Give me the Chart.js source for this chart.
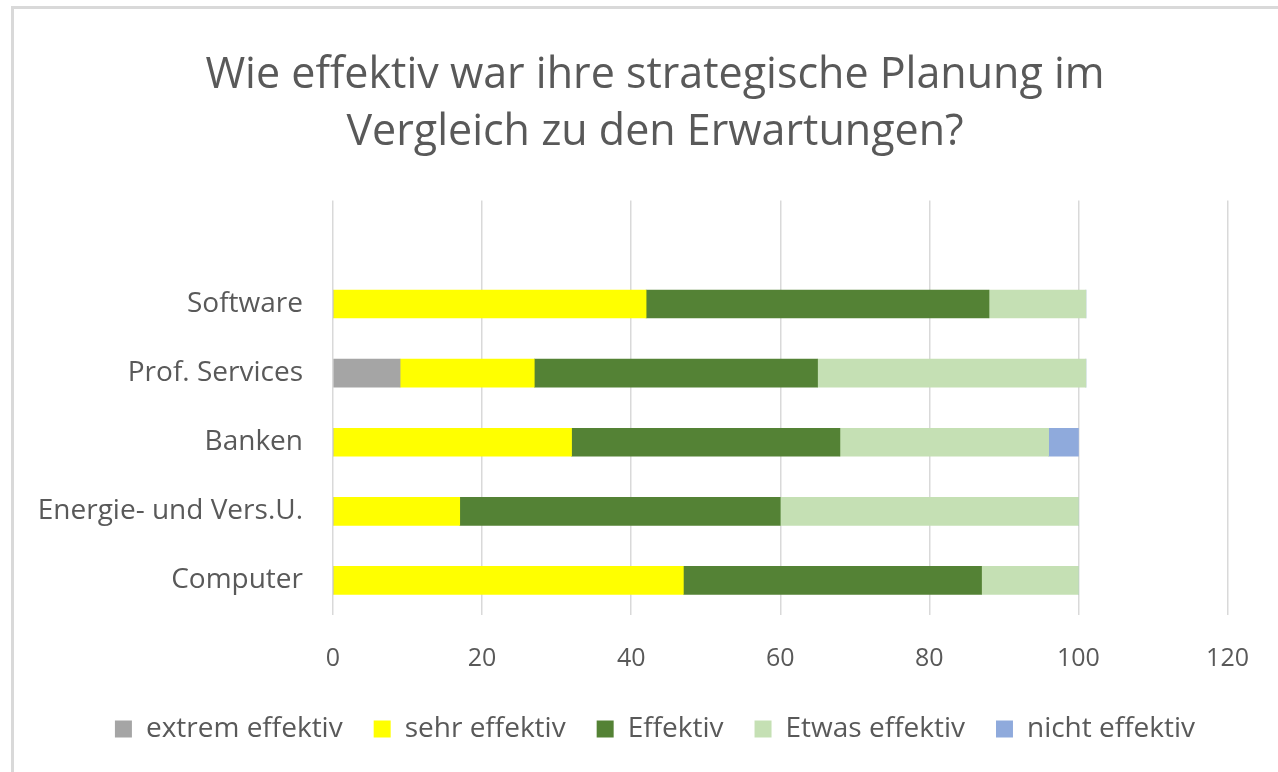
<!DOCTYPE html>
<html>
<head>
<meta charset="utf-8">
<script src="https://cdn.jsdelivr.net/npm/chart.js@4"></script>
<style>
  body { margin: 0; background: #fff; overflow: hidden; }
  #rahmen { position: absolute; left: 11px; top: 6px; width: 1400px; height: 900px;
            border-top: 3px solid #d9d9d9; border-left: 3px solid #d9d9d9; }
  #wrap { position: absolute; left: 0; top: 0; width: 1278px; height: 772px; }
</style>
</head>
<body>
<div id="rahmen"></div>
<div id="wrap"><canvas id="grafico" width="1278" height="772"></canvas></div>
<script>
// DATEN ------------------------------
var kategorien = ['', 'Software', 'Prof. Services', 'Banken', 'Energie- und Vers.U.', 'Computer'];
var extremEffektiv = [null, 0, 9, 0, 0, 0];
var sehrEffektiv = [null, 42, 18, 32, 17, 47];
var effektiv = [null, 46, 38, 36, 43, 40];
var etwasEffektiv = [null, 13, 36, 28, 40, 13];
var nichtEffektiv = [null, 0, 0, 4, 0, 0];
var xTicks = [0, 20, 40, 60, 80, 100, 120];

var grau = '#595959';
var schrift = "'Open Sans', sans-serif";

var ctx = document.getElementById('grafico');
var chart = new Chart(ctx, {
  type: 'bar',
  data: {
    labels: kategorien,
    datasets: [
      { label: 'extrem effektiv', data: extremEffektiv, backgroundColor: '#a5a5a5' },
      { label: 'sehr effektiv', data: sehrEffektiv, backgroundColor: '#ffff00' },
      { label: 'Effektiv', data: effektiv, backgroundColor: '#548235' },
      { label: 'Etwas effektiv', data: etwasEffektiv, backgroundColor: '#c5e0b4' },
      { label: 'nicht effektiv', data: nichtEffektiv, backgroundColor: '#8faadc' }
    ]
  },
  options: {
    indexAxis: 'y',
    responsive: false,
    animation: false,
    layout: { padding: { left: 80, right: 48, top: 0, bottom: 19 } },
    datasets: { bar: { barThickness: 28, borderWidth: 0 } },
    scales: {
      x: {
        stacked: true,
        min: 0,
        max: 120,
        afterBuildTicks: function(scale) {
          scale.ticks = xTicks.map(function(v) { return { value: v }; });
        },
        afterFit: function(scale) { scale.height = 69; },
        grid: { color: '#d9d9d9', lineWidth: 1.5, drawTicks: false },
        border: { display: false },
        ticks: { color: grau, padding: 29, font: { family: schrift, size: 25 } }
      },
      y: {
        stacked: true,
        afterFit: function(scale) { scale.width = 253; },
        // lange Kategorien nicht am Achsenrand abschneiden
        afterUpdate: function(scale) { scale._computeLabelArea = function() {}; },
        grid: { display: false, drawTicks: false },
        border: { display: false },
        ticks: { color: grau, padding: 30, font: { family: schrift, size: 28 } }
      }
    },
    plugins: {
      tooltip: { enabled: false },
      title: {
        display: true,
        text: ['Wie effektiv war ihre strategische Planung im', 'Vergleich zu den Erwartungen?'],
        color: grau,
        font: { family: schrift, size: 43, weight: 'normal', lineHeight: 1.33 },
        padding: { top: 47, bottom: 39 }
      },
      legend: {
        position: 'bottom',
        labels: {
          color: grau,
          boxWidth: 17,
          boxHeight: 17,
          padding: 31,
          font: { family: schrift, size: 28 }
        }
      }
    }
  }
});
</script>
</body>
</html>
